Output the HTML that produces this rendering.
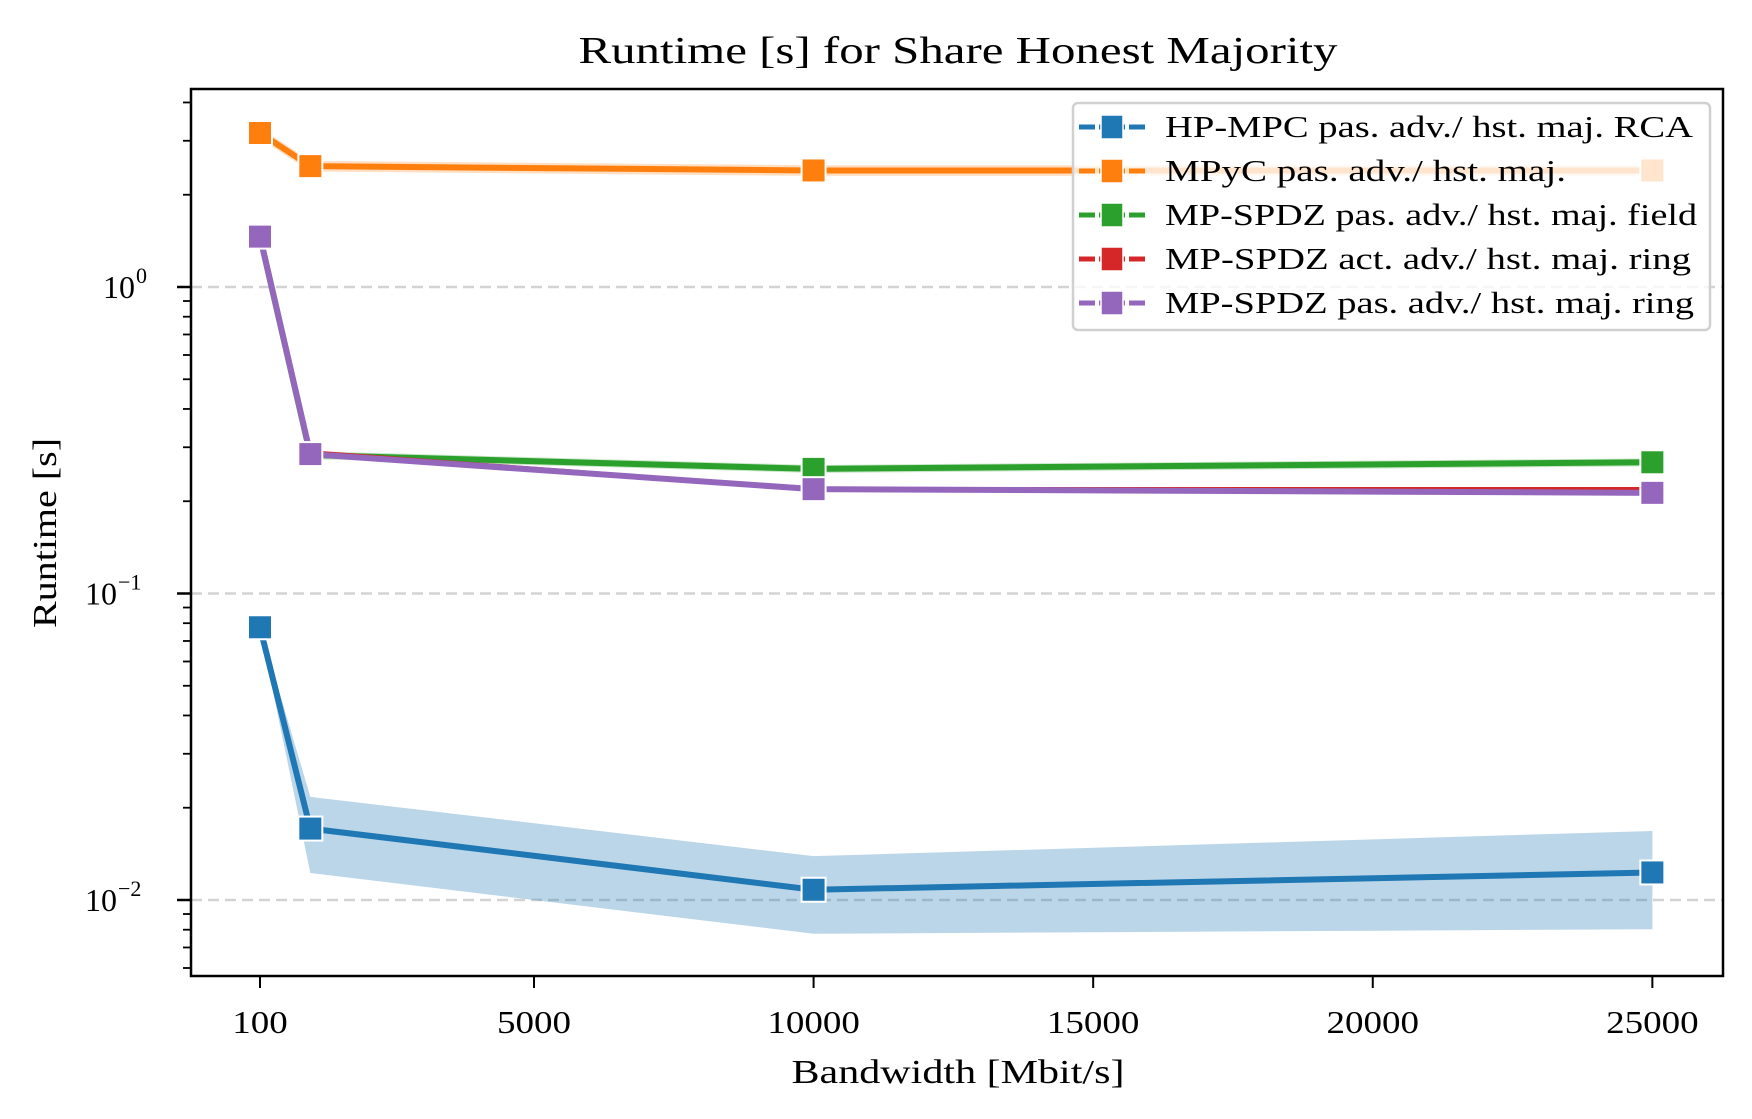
<!DOCTYPE html>
<html><head><meta charset="utf-8"><style>
html,body{margin:0;padding:0;background:#fff}
svg{display:block}
text{font-family:"Liberation Serif",serif;fill:#000}
</style></head><body>
<svg id="chart" width="1752" height="1119" viewBox="0 0 1752 1119" xmlns="http://www.w3.org/2000/svg">
<rect width="1752" height="1119" fill="#fff"/>
<text x="958" y="63" text-anchor="middle" font-size="38" textLength="759" lengthAdjust="spacingAndGlyphs">Runtime [s] for Share Honest Majority</text>
<g id="grid"></g>
<g id="bands"></g>
<g id="lines"></g>
<g id="axes"></g>
<g id="legend"></g>
<text x="958" y="1083" text-anchor="middle" font-size="34" textLength="333" lengthAdjust="spacingAndGlyphs">Bandwidth [Mbit/s]</text>
<text transform="translate(56,533) rotate(-90)" text-anchor="middle" font-size="34" textLength="190" lengthAdjust="spacingAndGlyphs">Runtime [s]</text>
</svg>
<script>
const categories = [100, 1000, 10000, 25000];
const seriesNames = ["HP-MPC pas. adv./ hst. maj. RCA","MPyC pas. adv./ hst. maj.","MP-SPDZ pas. adv./ hst. maj. field","MP-SPDZ act. adv./ hst. maj. ring","MP-SPDZ pas. adv./ hst. maj. ring"];
const seriesColors = ["#1f77b4","#ff7f0e","#2ca02c","#d62728","#9467bd"];
const hpmpc = [0.0776, 0.0171, 0.0108, 0.0123];
const hpmpcLow = [0.0770, 0.01225, 0.00776, 0.00803];
const hpmpcHigh = [0.0782, 0.0217, 0.0139, 0.0168];
const mpyc = [3.18, 2.48, 2.40, 2.40];
const spdzField = [1.46, 0.283, 0.255, 0.268];
const spdzActRing = [1.46, 0.29, 0.22, 0.22];
const spdzPasRing = [1.46, 0.285, 0.219, 0.213];
const xTicks = [100, 5000, 10000, 15000, 20000, 25000];
const yMajorExp = [0, -1, -2];

const NS="http://www.w3.org/2000/svg";
const L=191,R=1723,T=89,B=976;
function xs(v){return 260+(v-100)*0.055918;}
const y0=287, dec=306.5;
function ys(v){return y0-Math.log10(v)*dec;}
function mk(tag,attrs,parent){const e=document.createElementNS(NS,tag);for(const k in attrs)e.setAttribute(k,attrs[k]);parent.appendChild(e);return e;}
const grid=document.getElementById('grid'),bands=document.getElementById('bands'),lines=document.getElementById('lines'),axes=document.getElementById('axes'),legend=document.getElementById('legend');

yMajorExp.forEach(e=>{const y=ys(Math.pow(10,e));
 const g=mk('line',{x1:L,x2:R,y1:y,y2:y,stroke:'#d3d3d3','stroke-width':2.5,'stroke-dasharray':'11,6'},grid);
 
 
});

let pts=categories.map((c,i)=>xs(c)+','+ys(hpmpcHigh[i]));
pts=pts.concat(categories.map((c,i)=>xs(c)+','+ys(hpmpcLow[i])).reverse());
const band=mk('polygon',{points:pts.join(' '),fill:'#1f77b4','fill-opacity':0.3},bands);


[[mpyc,1,0.04],[spdzField,2,0.03],[spdzPasRing,4,0.02]].forEach(([d,ci,w])=>{
 let p=categories.map((c,i)=>xs(c)+','+ys(d[i]*(1+w)));
 p=p.concat(categories.map((c,i)=>xs(c)+','+ys(d[i]*(1-w))).reverse());
 const b=mk('polygon',{points:p.join(' '),fill:seriesColors[ci],'fill-opacity':0.25},bands);
 
 
});

const allSeries=[hpmpc,mpyc,spdzField,spdzActRing,spdzPasRing];
const order=[2,3,4,1,0];
order.forEach(si=>{const d=allSeries[si];const c=seriesColors[si];
 const pl=mk('polyline',{points:categories.map((x,i)=>xs(x)+','+ys(d[i])).join(' '),fill:'none',stroke:c,'stroke-width':si==3?3:6},lines);
 
 
 if(si===3)return;
 categories.forEach((x,i)=>{
  const r=mk('rect',{x:xs(x)-12,y:ys(d[i])-12,width:24,height:24,fill:c,stroke:'#fff','stroke-width':2},lines);
  
  
 });
});

const fr=mk('rect',{x:L,y:T,width:R-L,height:B-T,fill:'none',stroke:'#000','stroke-width':2.5},axes);


xTicks.forEach(v=>{const x=xs(v);
 const t=mk('line',{x1:x,x2:x,y1:B,y2:B+12,stroke:'#000','stroke-width':2},axes);
 
 
 const s=String(v);
 const lb=mk('text',{x:x,y:1033,'text-anchor':'middle','font-size':32,textLength:s.length*18.5,lengthAdjust:'spacingAndGlyphs'},axes);
 lb.textContent=s;
 
 
});
for(let e=-3;e<=1;e++){for(let m=1;m<10;m++){const v=m*Math.pow(10,e);const y=ys(v);if(y<T||y>B)continue;
 const maj=m===1;
 const t=mk('line',{x1:L-(maj?14:8),x2:L,y1:y,y2:y,stroke:'#000','stroke-width':maj?2.5:1.8},axes);
 
 
}}
yMajorExp.forEach(e=>{const y=ys(Math.pow(10,e));
 const lb=mk('text',{x:e===0?135:117,y:y+11,'text-anchor':'end','font-size':32},axes);
 lb.textContent='10';
 
 
 const sp=mk('text',{x:e===0?136:118,y:y-4,'text-anchor':'start','font-size':22},axes);
 sp.textContent=e===0?'0':'\u2212'+(-e);
 
 
});

const lg=mk('rect',{x:1073,y:103,width:637,height:227,rx:5,fill:'#fff','fill-opacity':0.8,stroke:'#d0d0d0','stroke-width':2.5},legend);


const lens=[528,401,532,526,529];
seriesNames.forEach((n,i)=>{const y=127+i*44;
 const ln=mk('line',{x1:1079,x2:1145,y1:y,y2:y,stroke:seriesColors[i],'stroke-width':5,'stroke-dasharray':'16,4,26,4,16'},legend);
 
 
 const mr=mk('rect',{x:1101,y:y-12,width:22,height:24,fill:seriesColors[i],stroke:'#fff','stroke-width':1.5},legend);
 
 
 const tx=mk('text',{x:1165,y:y+10,'font-size':31,textLength:lens[i],lengthAdjust:'spacingAndGlyphs'},legend);
 tx.textContent=n;
 
 
});
</script>
</body></html>
